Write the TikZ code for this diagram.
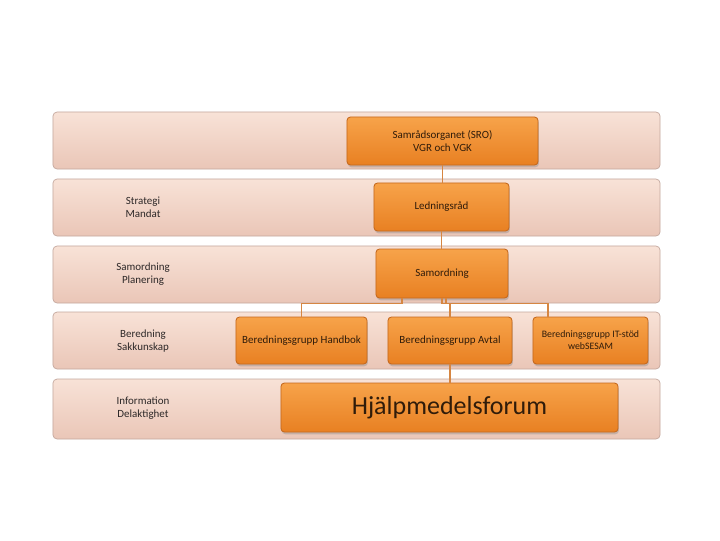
\documentclass[tikz,border=0pt]{standalone}
\usepackage{fontspec}
\setmainfont{Carlito}
\usetikzlibrary{shadows}
\definecolor{bandtop}{RGB}{248,226,215}
\definecolor{bandbot}{RGB}{234,198,183}
\definecolor{bandline}{RGB}{196,168,158}
\definecolor{boxtop}{RGB}{247,163,74}
\definecolor{boxmid}{RGB}{244,148,52}
\definecolor{boxbot}{RGB}{232,128,34}
\definecolor{boxline}{RGB}{196,104,30}
\definecolor{linkcol}{RGB}{214,134,66}
\definecolor{boxtext}{RGB}{48,28,10}
\definecolor{labeltext}{RGB}{45,40,40}
\begin{document}
\begin{tikzpicture}[x=0.025cm,y=-0.025cm,
  band/.style={draw=bandline,line width=0.5pt,rounded corners=3pt,top color=bandtop,bottom color=bandbot,
    minimum width=15.175cm,minimum height=1.425cm,inner sep=0pt},
  level/.style={text=labeltext,align=center,font=\fontsize{7.8}{9.3}\selectfont},
  unit/.style={draw=boxline,line width=0.6pt,rounded corners=2.5pt,top color=boxtop,middle color=boxmid,bottom color=boxbot,
    drop shadow={shadow xshift=0.6pt,shadow yshift=-1.6pt,opacity=0.35},
    text=boxtext,align=center,inner sep=0pt,font=\fontsize{7.8}{9.3}\selectfont},
  link/.style={draw=linkcol,line width=1pt}]

\useasboundingbox (0,0) rectangle (720,540);
\fill[white] (0,0) rectangle (720,540);

% background bands:
\node[band] (b1) at (356.5,140.5) {};
\node[band] (b2) at (356.5,207.5) {};
\node[band] (b3) at (356.5,274.5) {};
\node[band] (b4) at (356.5,340.5) {};
\node[band,minimum height=1.5cm] (b5) at (356.5,409) {};

\node[level] (l2) at (143,207) {Strategi\\Mandat};
\node[level] (l3) at (143,274) {Samordning\\Planering};
\node[level] (l4) at (143,341) {Beredning\\Sakkunskap};
\node[level] (l5) at (143,408) {Information\\Delaktighet};

% units:
\node[unit,minimum width=4.775cm,minimum height=1.2cm] (sro) at (442.5,141) {Samrådsorganet (SRO)\\VGR och VGK};
\node[unit,minimum width=3.375cm,minimum height=1.2cm] (led) at (441.5,207) {Ledningsråd};
\node[unit,minimum width=3.3cm,minimum height=1.225cm] (sam) at (442,273.5) {Samordning};
\node[unit,minimum width=3.275cm,minimum height=1.175cm] (hand) at (301.5,340.5) {Beredningsgrupp Handbok};
\node[unit,minimum width=3.1cm,minimum height=1.175cm] (avtal) at (450,340.5) {Beredningsgrupp Avtal};
\node[unit,minimum width=2.875cm,minimum height=1.175cm,font=\fontsize{7}{8.4}\selectfont] (it) at (590.5,340.5) {Beredningsgrupp IT-stöd\\webSESAM};
\node[unit,minimum width=8.425cm,minimum height=1.225cm,font=\fontsize{18.5}{22}\selectfont] (forum) at (449.5,407.5) {Hjälpmedelsforum};

% connectors:
\draw[link] (sro.south) -- (sro.south |- led.north);
\draw[link] (led.south) -- (led.south |- sam.north);
\draw[link] ([xshift=-1cm]sam.south) -- ++(0,5) -| (hand.north);
\draw[link] (sam.south) -- ++(0,5) -| (avtal.north);
\draw[link] ([xshift=0.1cm]sam.south) -- ++(0,5) -| ([xshift=-1.0625cm]it.north);
\draw[link] (avtal.south) -- (avtal.south |- forum.north);

\end{tikzpicture}
\end{document}
